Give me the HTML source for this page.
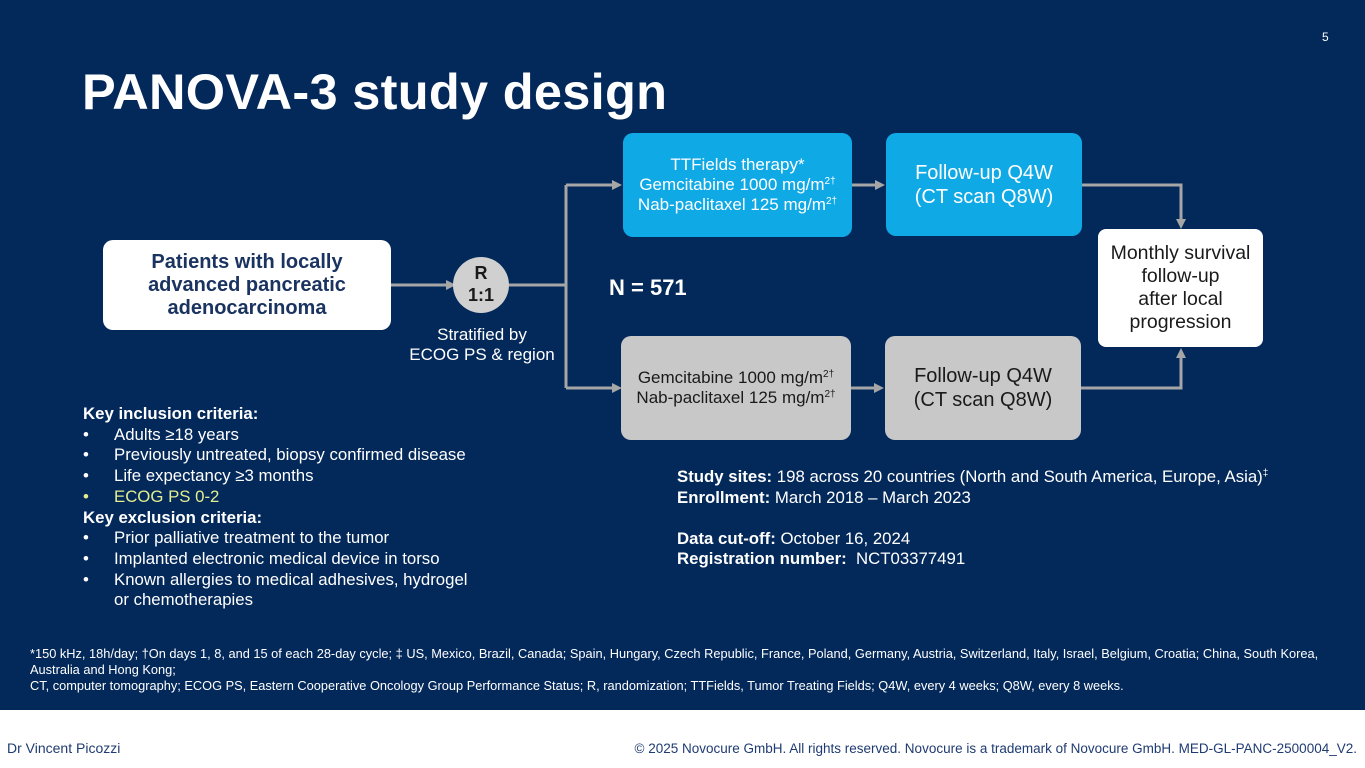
<!DOCTYPE html>
<html><head><meta charset="utf-8"><style>
*{margin:0;padding:0;box-sizing:border-box}
body{width:1365px;height:768px;overflow:hidden;background:#fff;font-family:"Liberation Sans",Arial,sans-serif;position:relative}
#bg{position:absolute;left:0;top:0;width:1365px;height:710px;background:#03285a}
.a{position:absolute;white-space:nowrap}
.box{position:absolute;border-radius:10px;display:flex;align-items:center;justify-content:center;text-align:center}
sup{font-size:10px;vertical-align:6px;line-height:0}
.w{color:#fff}
.crit{left:83px;top:404px;font-size:16.8px;line-height:20.7px;color:#fff}
.crit div{position:relative;padding-left:31px}
.crit .b{position:absolute;left:0}
.crit h{font-weight:bold;display:block}
</style></head><body>
<div id="bg"></div>
<div class="a w" style="left:1322px;top:30px;font-size:12px">5</div>
<div class="a w" style="left:82px;top:62px;font-size:50.5px;font-weight:bold;letter-spacing:0.3px">PANOVA-3 study design</div>

<svg class="a" style="left:0;top:0" width="1365" height="710">
<g stroke="#a6a6a6" stroke-width="3" fill="none">
<line x1="391" y1="285" x2="448" y2="285"/>
<line x1="508" y1="285" x2="566" y2="285"/>
<line x1="566" y1="185" x2="566" y2="388"/>
<line x1="566" y1="185" x2="614" y2="185"/>
<line x1="566" y1="388" x2="614" y2="388"/>
<line x1="852" y1="185" x2="877" y2="185"/>
<line x1="851" y1="388" x2="876" y2="388"/>
<polyline points="1082,185 1181,185 1181,221"/>
<polyline points="1081,388 1181,388 1181,356"/>
</g>
<g fill="#a6a6a6">
<polygon points="456,285 446,280 446,290"/>
<polygon points="622,185 612,180 612,190"/>
<polygon points="622,388 612,383 612,393"/>
<polygon points="885,185 875,180 875,190"/>
<polygon points="884,388 874,383 874,393"/>
<polygon points="1181,229 1176,219 1186,219"/>
<polygon points="1181,348 1176,358 1186,358"/>
</g>
<circle cx="481" cy="285" r="28" fill="#d0d0d0"/>
</svg>

<div class="box" style="left:103px;top:240px;width:288px;height:90px;background:#fff;color:#1a3360;font-weight:bold;font-size:20px;line-height:23px"><div>Patients with locally<br>advanced pancreatic<br>adenocarcinoma</div></div>
<div class="a" style="left:453px;top:262px;width:56px;text-align:center;font-weight:bold;font-size:18px;line-height:22px;color:#1a1a1a">R<br>1:1</div>
<div class="a w" style="left:392px;top:325px;width:180px;text-align:center;font-size:17px;line-height:20px">Stratified by<br>ECOG PS &amp; region</div>

<div class="box" style="left:623px;top:133px;width:229px;height:104px;background:#0fa9e6;color:#fff;font-size:17px;line-height:20px"><div>TTFields therapy*<br>Gemcitabine 1000 mg/m<sup>2†</sup><br>Nab-paclitaxel 125 mg/m<sup>2†</sup></div></div>
<div class="box" style="left:886px;top:133px;width:196px;height:103px;background:#0fa9e6;color:#fff;font-size:20px;line-height:24px"><div>Follow-up Q4W<br>(CT scan Q8W)</div></div>
<div class="box" style="left:621px;top:336px;width:230px;height:104px;background:#c8c8c8;color:#1a1a1a;font-size:17px;line-height:20px"><div>Gemcitabine 1000 mg/m<sup>2†</sup><br>Nab-paclitaxel 125 mg/m<sup>2†</sup></div></div>
<div class="box" style="left:885px;top:336px;width:196px;height:104px;background:#c8c8c8;color:#1a1a1a;font-size:20px;line-height:24px"><div>Follow-up Q4W<br>(CT scan Q8W)</div></div>
<div class="box" style="left:1098px;top:229px;width:165px;height:118px;background:#fff;color:#1a1a1a;font-size:19.5px;line-height:23px;border-radius:8px"><div>Monthly survival<br>follow-up<br>after local<br>progression</div></div>
<div class="a w" style="left:609px;top:275px;font-size:22px;font-weight:bold">N = 571</div>

<div class="a crit">
<h>Key inclusion criteria:</h>
<div><span class="b">•</span>Adults ≥18 years</div>
<div><span class="b">•</span>Previously untreated, biopsy confirmed disease</div>
<div><span class="b">•</span>Life expectancy ≥3 months</div>
<div style="color:#e3ee8e"><span class="b">•</span>ECOG PS 0-2</div>
<h>Key exclusion criteria:</h>
<div><span class="b">•</span>Prior palliative treatment to the tumor</div>
<div><span class="b">•</span>Implanted electronic medical device in torso</div>
<div><span class="b">•</span>Known allergies to medical adhesives, hydrogel<br>or chemotherapies</div>
</div>

<div class="a w" style="left:677px;top:467px;font-size:16.8px;line-height:20.5px">
<b>Study sites:</b> 198 across 20 countries (North and South America, Europe, Asia)<sup>‡</sup><br>
<b>Enrollment:</b> March 2018 – March 2023<br><br>
<b>Data cut-off:</b> October 16, 2024<br>
<b>Registration number:</b>&nbsp; NCT03377491</div>

<div class="a w" style="left:30px;top:646px;font-size:12.8px;line-height:16px;white-space:normal;width:1310px">*150 kHz, 18h/day; †On days 1, 8, and 15 of each 28-day cycle; ‡ US, Mexico, Brazil, Canada; Spain, Hungary, Czech Republic, France, Poland, Germany, Austria, Switzerland, Italy, Israel, Belgium, Croatia; China, South Korea,<br>Australia and Hong Kong;<br>CT, computer tomography; ECOG PS, Eastern Cooperative Oncology Group Performance Status; R, randomization; TTFields, Tumor Treating Fields; Q4W, every 4 weeks; Q8W, every 8 weeks.</div>

<div class="a" style="left:7px;top:740px;font-size:14px;color:#1f3b73">Dr Vincent Picozzi</div>
<div class="a" style="right:8px;top:741px;font-size:13.5px;color:#1f3b73">© 2025 Novocure GmbH. All rights reserved. Novocure is a trademark of Novocure GmbH. MED-GL-PANC-2500004_V2.</div>
</body></html>
